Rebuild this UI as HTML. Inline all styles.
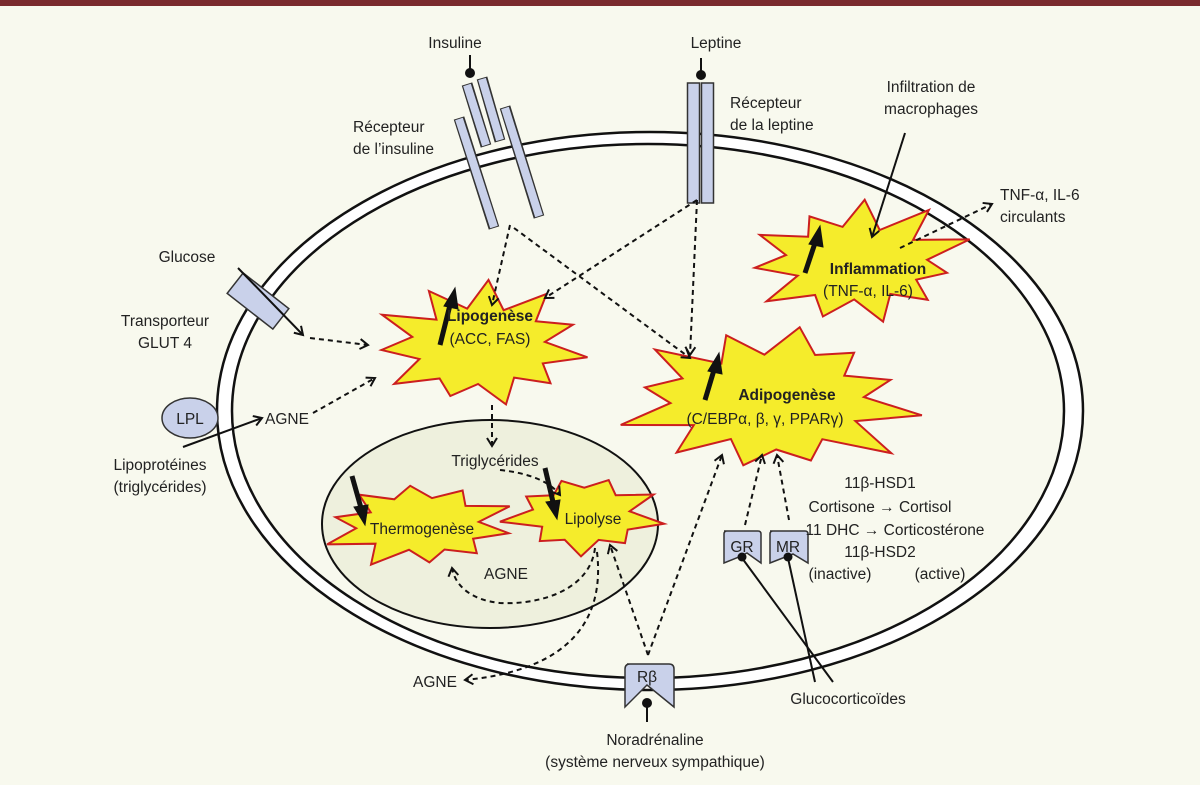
<!DOCTYPE html>
<html><head><meta charset="utf-8"><style>
html,body{margin:0;padding:0;background:#f8f9ee}
svg{display:block}
text{font-family:"Liberation Sans",sans-serif;font-size:15.5px;fill:#222}
.b{font-weight:bold}
</style></head><body>
<svg id="s" width="1200" height="785" viewBox="0 0 1200 785" xmlns="http://www.w3.org/2000/svg">
<defs>
<marker id="a" markerWidth="12" markerHeight="12" refX="9" refY="6" orient="auto" markerUnits="userSpaceOnUse">
<path d="M1,1 L9,6 L1,11" fill="none" stroke="#111" stroke-width="2"/></marker>
</defs>
<rect x="0" y="0" width="1200" height="785" fill="#f8f9ee"/>
<rect x="0" y="0" width="1200" height="6" fill="#7a2b2e"/>
<!-- cell -->
<ellipse cx="650" cy="411" rx="433" ry="279" fill="#fff" stroke="#111" stroke-width="2.5"/>
<ellipse cx="648" cy="411" rx="416" ry="267" fill="#f8f9ee" stroke="#111" stroke-width="2.5"/>
<ellipse cx="490" cy="524" rx="168" ry="104" fill="#eef0dd" stroke="#111" stroke-width="2"/>
<g id="stars"></g>
<!-- insulin receptor -->
<g stroke-linecap="butt">
<line x1="470" y1="55" x2="470" y2="72" stroke="#111" stroke-width="2"/><circle cx="470" cy="73" r="5" fill="#111"/>
<line x1="467" y1="84" x2="486" y2="146" stroke="#333" stroke-width="11"/><line x1="467" y1="85" x2="486" y2="145" stroke="#c9d1ea" stroke-width="8"/>
<line x1="482" y1="78" x2="500" y2="141" stroke="#333" stroke-width="11"/><line x1="482" y1="79" x2="500" y2="140" stroke="#c9d1ea" stroke-width="8"/>
<line x1="459" y1="118" x2="494" y2="228" stroke="#333" stroke-width="11"/><line x1="459" y1="119" x2="494" y2="227" stroke="#c9d1ea" stroke-width="8"/>
<line x1="505" y1="107" x2="539" y2="217" stroke="#333" stroke-width="11"/><line x1="505" y1="108" x2="539" y2="216" stroke="#c9d1ea" stroke-width="8"/>
<line x1="701" y1="58" x2="701" y2="74" stroke="#111" stroke-width="2"/><circle cx="701" cy="75" r="5" fill="#111"/>
<rect x="687.5" y="83" width="12" height="120" fill="#c9d1ea" stroke="#333" stroke-width="1.5"/>
<rect x="701.5" y="83" width="12" height="120" fill="#c9d1ea" stroke="#333" stroke-width="1.5"/>
<rect x="229" y="288" width="58" height="26" fill="#c9d1ea" stroke="#333" stroke-width="1.5" transform="rotate(38 258 301)"/>
<ellipse cx="190" cy="418" rx="28" ry="20" fill="#c9d1ea" stroke="#333" stroke-width="1.5"/>
</g>
<!-- connectors -->
<g fill="none" stroke="#111" stroke-width="2">
<line x1="238" y1="268" x2="303" y2="335" marker-end="url(#a)"/>
<line x1="183" y1="447" x2="262" y2="418" marker-end="url(#a)"/>
<line x1="905" y1="133" x2="872" y2="237" marker-end="url(#a)"/>
<line x1="742" y1="558" x2="833" y2="682"/>
<line x1="788" y1="558" x2="815" y2="682"/>
<line x1="647" y1="705" x2="647" y2="722"/>
</g>
<g fill="none" stroke="#111" stroke-width="2" stroke-dasharray="5,4">
<line x1="310" y1="338" x2="368" y2="345" marker-end="url(#a)"/>
<line x1="313" y1="413" x2="375" y2="378" marker-end="url(#a)"/>
<line x1="510" y1="225" x2="492" y2="305" marker-end="url(#a)"/>
<line x1="514" y1="228" x2="690" y2="358" marker-end="url(#a)"/>
<line x1="697" y1="200" x2="545" y2="298" marker-end="url(#a)"/>
<line x1="697" y1="200" x2="690" y2="355" marker-end="url(#a)"/>
<line x1="492" y1="405" x2="492" y2="446" marker-end="url(#a)"/>
<path d="M500,470 Q545,475 560,495" marker-end="url(#a)"/>
<path d="M595,548 C590,590 540,605 500,603 C470,600 455,585 452,568" marker-end="url(#a)"/>
<path d="M597,552 C605,620 570,670 465,680" marker-end="url(#a)"/>
<line x1="648" y1="655" x2="610" y2="545" marker-end="url(#a)"/>
<line x1="648" y1="655" x2="722" y2="455" marker-end="url(#a)"/>
<line x1="745" y1="525" x2="762" y2="455" marker-end="url(#a)"/>
<line x1="789" y1="520" x2="777" y2="455" marker-end="url(#a)"/>
<line x1="900" y1="248" x2="992" y2="204" marker-end="url(#a)"/>
</g>
<!-- thick arrows -->
<g stroke="#111" stroke-width="5" fill="#111">
<line x1="440" y1="345" x2="450" y2="305"/><polygon points="455,288 444,306 458,309" stroke-width="1"/>
<line x1="705" y1="400" x2="714" y2="370"/><polygon points="719,353 708,371 722,374" stroke-width="1"/>
<line x1="805" y1="273" x2="815" y2="243"/><polygon points="820,226 809,244 823,247" stroke-width="1"/>
<line x1="352" y1="476" x2="361" y2="508"/><polygon points="365,525 354,507 368,505" stroke-width="1"/>
<line x1="545" y1="468" x2="553" y2="502"/><polygon points="557,519 546,502 560,500" stroke-width="1"/>
</g>
<!-- receptors -->
<path d="M627,664 h42 q5,0 5,5 v38 l-27,-22 l-22,22 v-38 q0,-5 5,-5z" fill="#c9d1ea" stroke="#333" stroke-width="1.5"/>
<circle cx="647" cy="703" r="5" fill="#111"/>
<path d="M724,531 h34 q3,0 3,3 v29 l-14,-10 l-8,4 l-15,6 v-29 q0,-3 3,-3z" fill="#c9d1ea" stroke="#333" stroke-width="1.5"/>
<path d="M770,531 h35 q3,0 3,3 v29 l-15,-9 l-23,9 v-29 q0,-3 3,-3z" fill="#c9d1ea" stroke="#333" stroke-width="1.5"/>
<circle cx="742" cy="557" r="4.5" fill="#111"/><circle cx="788" cy="557" r="4.5" fill="#111"/>
<!-- text -->
<text x="455" y="48" text-anchor="middle">Insuline</text>
<text x="716" y="48" text-anchor="middle">Leptine</text>
<text x="353" y="132">Récepteur</text>
<text x="353" y="154">de l’insuline</text>
<text x="730" y="108">Récepteur</text>
<text x="730" y="130">de la leptine</text>
<text x="931" y="92" text-anchor="middle">Infiltration de</text>
<text x="931" y="114" text-anchor="middle">macrophages</text>
<text x="1000" y="200">TNF-α, IL-6</text>
<text x="1000" y="222">circulants</text>
<text x="187" y="262" text-anchor="middle">Glucose</text>
<text x="165" y="326" text-anchor="middle">Transporteur</text>
<text x="165" y="348" text-anchor="middle">GLUT 4</text>
<text x="190" y="424" text-anchor="middle">LPL</text>
<text x="160" y="470" text-anchor="middle">Lipoprotéines</text>
<text x="160" y="492" text-anchor="middle">(triglycérides)</text>
<text x="287" y="424" text-anchor="middle">AGNE</text>
<text x="490" y="321" text-anchor="middle" class="b">Lipogenèse</text>
<text x="490" y="344" text-anchor="middle">(ACC, FAS)</text>
<text x="787" y="400" text-anchor="middle" class="b">Adipogenèse</text>
<text x="765" y="424" text-anchor="middle">(C/EBPα, β, γ, PPARγ)</text>
<text x="878" y="274" text-anchor="middle" class="b">Inflammation</text>
<text x="868" y="296" text-anchor="middle">(TNF-α, IL-6)</text>
<text x="495" y="466" text-anchor="middle">Triglycérides</text>
<text x="422" y="534" text-anchor="middle">Thermogenèse</text>
<text x="593" y="524" text-anchor="middle">Lipolyse</text>
<text x="506" y="579" text-anchor="middle">AGNE</text>
<text x="435" y="687" text-anchor="middle">AGNE</text>
<text x="880" y="488" text-anchor="middle">11β-HSD1</text>
<text x="880" y="512" text-anchor="middle">Cortisone → Cortisol</text>
<text x="895" y="535" text-anchor="middle">11 DHC → Corticostérone</text>
<text x="880" y="557" text-anchor="middle">11β-HSD2</text>
<text x="840" y="579" text-anchor="middle">(inactive)</text>
<text x="940" y="579" text-anchor="middle">(active)</text>
<text x="742" y="552" text-anchor="middle">GR</text>
<text x="788" y="552" text-anchor="middle">MR</text>
<text x="647" y="682" text-anchor="middle">Rβ</text>
<text x="848" y="704" text-anchor="middle">Glucocorticoïdes</text>
<text x="655" y="745" text-anchor="middle">Noradrénaline</text>
<text x="655" y="767" text-anchor="middle">(système nerveux sympathique)</text>
</svg>
<script>
(function(){
var g=document.getElementById('stars');
function star(cx,cy,rx,ry,n,inner,seed){
  var pts=[],s=seed;
  function r(){s=(s*9301+49297)%233280;return s/233280;}
  for(var i=0;i<2*n;i++){
    var a=Math.PI*i/n+0.2;
    var k=(i%2==0)?(0.85+0.3*r()):(inner+0.1*r());
    pts.push((cx+Math.cos(a)*rx*k).toFixed(1)+','+(cy+Math.sin(a)*ry*k).toFixed(1));
  }
  var p=document.createElementNS('http://www.w3.org/2000/svg','polygon');
  p.setAttribute('points',pts.join(' '));
  p.setAttribute('fill','#f5ec2b');p.setAttribute('stroke','#cc1f1f');p.setAttribute('stroke-width','2');
  g.appendChild(p);
}
star(482,345,108,62,11,0.58,7);
star(770,400,145,72,12,0.6,13);
star(858,263,105,57,11,0.6,21);
star(420,525,92,42,10,0.6,31);
star(583,515,75,40,9,0.6,41);
})();
</script>
</body></html>
